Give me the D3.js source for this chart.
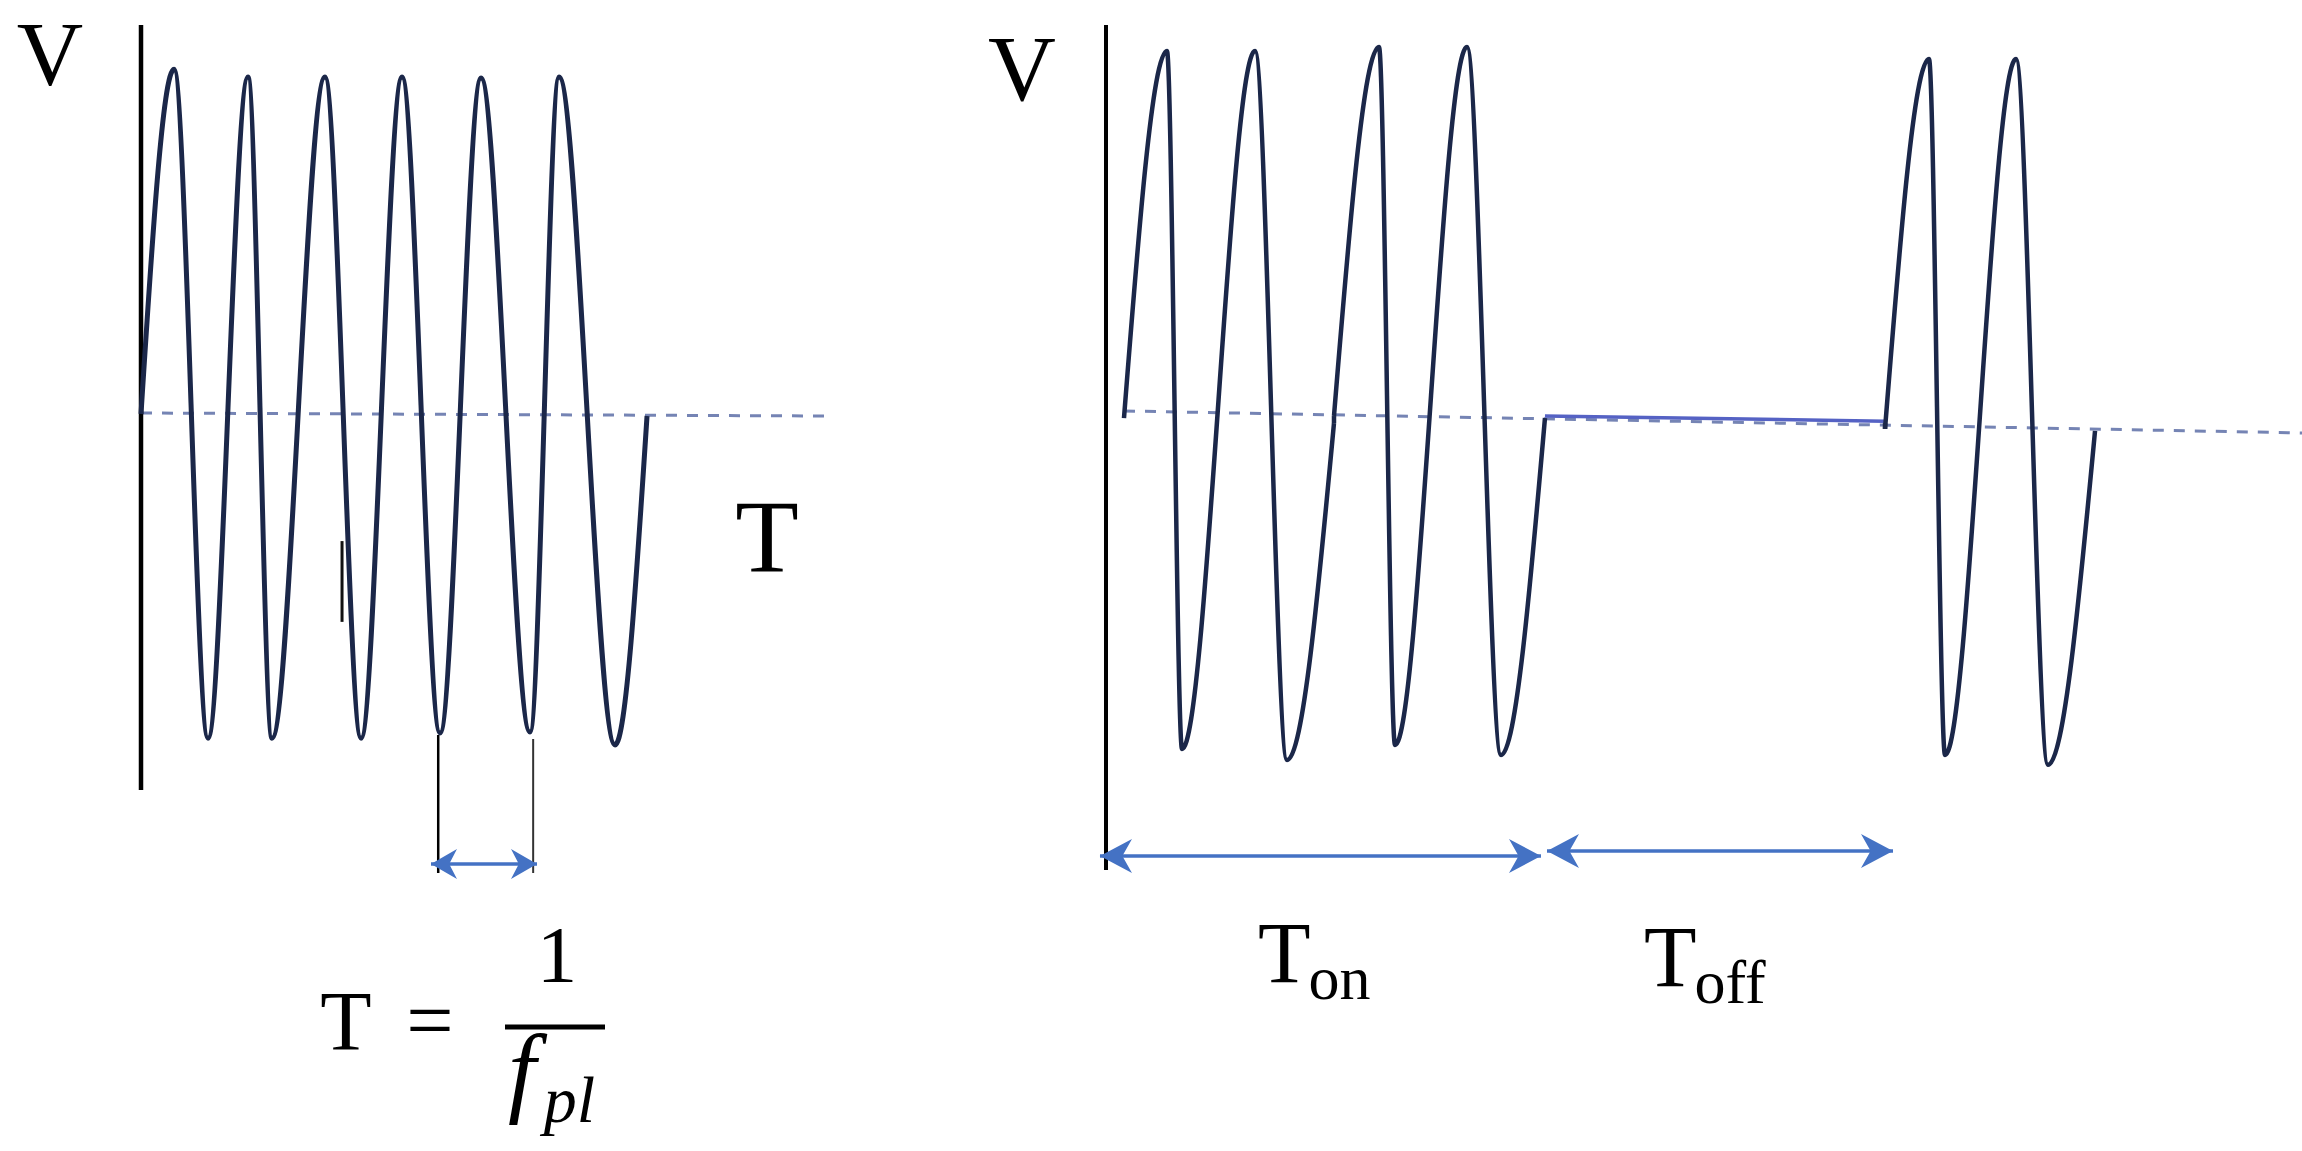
<!DOCTYPE html>
<html>
<head>
<meta charset="utf-8">
<script src="https://cdn.jsdelivr.net/npm/d3@7"></script>
<style>
  html, body { margin: 0; padding: 0; background: #ffffff; }
  svg { display: block; }
</style>
</head>
<body>
<script>
// ---------------- DATA (time units, normalized voltage) ----------------
// Left panel: continuous wave, extrema
const leftWave = [[0, 0], [0.48, 1.02], [0.974, -0.959], [1.555, 0.997], [1.904, -0.959],
  [2.674, 0.997], [3.198, -0.959], [3.794, 0.997], [4.346, -0.944], [4.942, 0.994],
  [5.654, -0.941], [6.076, 0.997], [6.89, -0.979], [7.355, -0.006]];
const leftBaseline = [[0, 0.003], [10, -0.006]];
const leftPeriodMarks = [4.32, 5.70];           // vertical guide positions
const leftPeriodArrow = [4.215, 5.756];          // double arrow extent
const leftStray = [[2.922, -0.376], [2.922, -0.615]];

// Right panel: pulsed wave (on / off / on)
const rightOn1 = [[0.257, -0.012], [0.871, 1.074], [1.086, -0.991], [2.129, 1.074],
  [2.586, -1.024], [3.257, -0.027]];
const rightOn2 = [[3.257, -0.006], [3.9, 1.086], [4.129, -0.979], [5.157, 1.086],
  [5.643, -1.009], [6.271, -0.012]];
const rightOff = [[6.271, -0.012], [11.129, -0.027]];
const rightOn3 = [[11.129, -0.044], [11.757, 1.05], [11.986, -1.009], [13.0, 1.05],
  [13.457, -1.038], [14.129, -0.05]];
const rightBaseline = [[0.257, 0.009], [17.086, -0.056]];
const tonArrow = [-0.086, 6.214];
const toffArrow = [6.3, 11.243];

const labels = { v: "V", t: "T", ton: ["T", "on"], toff: ["T", "off"] };

// ---------------- LAYOUT ----------------
const W = 2302, H = 1151;
const svg = d3.select("body").append("svg").attr("width", W).attr("height", H)
  .attr("viewBox", `0 0 ${W} ${H}`);

const y = d3.scaleLinear().domain([-1, 1]).range([752, 76]);
const xL = d3.scaleLinear().domain([0, 10]).range([141, 829]);
const xR = d3.scaleLinear().domain([0, 17]).range([1106, 2296]);

const waveColor = "#1b2749";
const dashColor = "#7584b4";
const arrowColor = "#4472c4";
const serif = "'Liberation Serif', 'DejaVu Serif', serif";

const defs = svg.append("defs");
function marker(id, len, half) {
  defs.append("marker").attr("id", id)
    .attr("viewBox", `0 0 ${len} ${half * 2}`)
    .attr("refX", len).attr("refY", half)
    .attr("markerWidth", len).attr("markerHeight", half * 2)
    .attr("markerUnits", "userSpaceOnUse")
    .attr("orient", "auto-start-reverse")
    .append("path").attr("d", `M0,0 L${len},${half} L0,${half * 2} L${len * 0.3},${half} Z`)
    .attr("fill", arrowColor);
}
marker("headS", 26, 15);
marker("headL", 32, 17);

const curve = d3.line().curve(d3.curveMonotoneX);
const lin = d3.line();

function drawWave(g, data, xs, w) {
  g.append("path")
    .attr("d", curve.x(d => xs(d[0])).y(d => y(d[1]))(data))
    .attr("fill", "none").attr("stroke", waveColor).attr("stroke-width", w)
    .attr("stroke-linejoin", "round").attr("stroke-linecap", "butt");
}
function drawDashed(g, data, xs) {
  g.append("path")
    .attr("d", lin.x(d => xs(d[0])).y(d => y(d[1]))(data))
    .attr("fill", "none").attr("stroke", dashColor).attr("stroke-width", 3)
    .attr("stroke-dasharray", "11 10");
}

// ---------------- LEFT PANEL ----------------
const gl = svg.append("g");
drawDashed(gl, leftBaseline, xL);
gl.append("line").attr("x1", xL(0)).attr("x2", xL(0)).attr("y1", 25).attr("y2", 790)
  .attr("stroke", "#000").attr("stroke-width", 4.5);
drawWave(gl, leftWave, xL, 5);
gl.append("path").attr("d", lin.x(d => xL(d[0])).y(d => y(d[1]))(leftStray))
  .attr("stroke", "#111").attr("stroke-width", 3);
leftPeriodMarks.forEach((t, i) => {
  gl.append("line").attr("x1", xL(t)).attr("x2", xL(t))
    .attr("y1", i === 0 ? 735 : 739).attr("y2", 873)
    .attr("stroke", i === 0 ? "#000" : "#333").attr("stroke-width", i === 0 ? 2.5 : 2);
});
gl.append("line").attr("x1", xL(leftPeriodArrow[0])).attr("x2", xL(leftPeriodArrow[1]))
  .attr("y1", 864).attr("y2", 864)
  .attr("stroke", arrowColor).attr("stroke-width", 3.5)
  .attr("marker-start", "url(#headS)").attr("marker-end", "url(#headS)");

gl.append("text").text(labels.v).attr("x", 50).attr("y", 85)
  .attr("text-anchor", "middle").attr("font-family", serif).attr("font-size", 92);
gl.append("text").text(labels.t).attr("x", 767).attr("y", 572)
  .attr("text-anchor", "middle").attr("font-family", serif).attr("font-size", 104);

// formula T = 1 / f_pl
const fm = gl.append("g").attr("font-family", serif);
fm.append("text").text("T").attr("x", 346).attr("y", 1050).attr("text-anchor", "middle").attr("font-size", 84);
fm.append("text").text("=").attr("x", 430).attr("y", 1049).attr("text-anchor", "middle").attr("font-size", 84);
fm.append("text").text("1").attr("x", 557).attr("y", 982).attr("text-anchor", "middle").attr("font-size", 81);
fm.append("line").attr("x1", 505).attr("x2", 605).attr("y1", 1027).attr("y2", 1027)
  .attr("stroke", "#000").attr("stroke-width", 5);
const fl = fm.append("text").attr("x", 508).attr("y", 1104).attr("font-style", "italic");
fl.append("tspan").text("f").attr("font-size", 100);
fl.append("tspan").text("pl").attr("font-size", 66).attr("dx", 8).attr("dy", 18);

// ---------------- RIGHT PANEL ----------------
const gr = svg.append("g");
drawDashed(gr, rightBaseline, xR);
gr.append("line").attr("x1", xR(0)).attr("x2", xR(0)).attr("y1", 25).attr("y2", 870)
  .attr("stroke", "#000").attr("stroke-width", 4);
gr.append("path").attr("d", lin.x(d => xR(d[0])).y(d => y(d[1]) - 2)(rightOff))
  .attr("fill", "none").attr("stroke", "#5562c4").attr("stroke-width", 3.5);
[rightOn1, rightOn2, rightOn3].forEach(s => drawWave(gr, s, xR, 4.5));
gr.append("path").attr("d", lin.x(d => xR(d[0])).y(d => y(d[1]))([rightOn1[rightOn1.length - 1], rightOn2[0]]))
  .attr("stroke", waveColor).attr("stroke-width", 4.5);
gr.append("path").attr("d", lin.x(d => xR(d[0])).y(d => y(d[1]))([rightOff[1], rightOn3[0]]))
  .attr("stroke", waveColor).attr("stroke-width", 4.5);

gr.append("line").attr("x1", xR(tonArrow[0])).attr("x2", xR(tonArrow[1]))
  .attr("y1", 856).attr("y2", 856).attr("stroke", arrowColor).attr("stroke-width", 3.5)
  .attr("marker-start", "url(#headL)").attr("marker-end", "url(#headL)");
gr.append("line").attr("x1", xR(toffArrow[0])).attr("x2", xR(toffArrow[1]))
  .attr("y1", 851).attr("y2", 851).attr("stroke", arrowColor).attr("stroke-width", 3.5)
  .attr("marker-start", "url(#headL)").attr("marker-end", "url(#headL)");

gr.append("text").text(labels.v).attr("x", 1022).attr("y", 100)
  .attr("text-anchor", "middle").attr("font-family", serif).attr("font-size", 94);

function subLabel(x, yb, parts) {
  const t = gr.append("text").attr("x", x).attr("y", yb).attr("font-family", serif);
  t.append("tspan").text(parts[0]).attr("font-size", 86);
  t.append("tspan").text(parts[1]).attr("font-size", 62).attr("dy", 17).attr("dx", -2);
}
subLabel(1258, 982, labels.ton);
subLabel(1644, 986, labels.toff);
</script>
</body>
</html>
